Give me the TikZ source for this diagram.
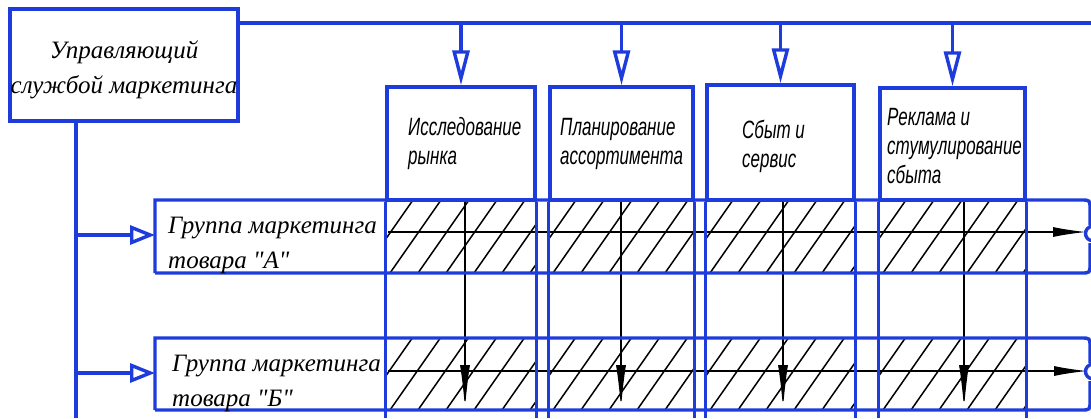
\documentclass[tikz,border=0pt]{standalone}
\usepackage{fontspec}
\setmainfont{Liberation Serif}
\newfontfamily\plainserif{Liberation Serif}
\newfontfamily\gost{Liberation Sans}[FakeStretch=0.68]
\usetikzlibrary{arrows.meta}
\definecolor{lineblue}{RGB}{30,60,220}
\begin{document}
\begin{tikzpicture}[x=1pt,y=-1pt,
  bl/.style={draw=lineblue, line width=3.4pt},
  colbox/.style={bl, inner sep=0pt},
  bigarrow/.style={bl, -{Triangle[open, length=35pt, width=17pt]}},
  sidearrow/.style={bl, -{Triangle[open, length=25pt, width=19pt]}},
  hatch/.style={draw=black, line width=1.5pt},
  thin/.style={draw=black, line width=1.2pt},
  varrow/.style={thin, -{Latex[length=44pt, width=10pt]}},
  harrow/.style={thin, -{Latex[length=33pt, width=10pt]}},
  serif/.style={font=\plainserif\itshape\fontsize{25}{35}\selectfont},
  gostf/.style={font=\gost\itshape\fontsize{25}{29}\selectfont, inner sep=0pt, anchor=base west}
]
\useasboundingbox (0,0) rectangle (1091,418);
\clip (0,0) rectangle (1091,418);

% hatching of the crossings
\foreach \l/\r in {387/535,550/693,707/854,880/1025}{
  \foreach \t/\b in {200/273,338/410}{
    \begin{scope}
      \clip (\l,\t) rectangle (\r,\b);
      \foreach \k in {-2,...,6}
        \draw[hatch] ({\l+3+\k*28},\b) -- ++(51,-73);
    \end{scope}
  }
}

% thin black flow lines
\coordinate (hAs) at (388,232);
\coordinate (hAe) at (1086,232);
\coordinate (hBs) at (388,371);
\coordinate (hBe) at (1087,371);
\draw[harrow] (hAs) -- (hAe);
\draw[harrow] (hBs) -- (hBe);
\foreach \x [count=\i] in {465,621,783,964}{
  \coordinate (v\i s) at (\x,200);
  \coordinate (v\i e) at (\x,409);
  \draw[varrow] (v\i s) -- (v\i e);
}

% manager box
\node[bl, minimum width=228pt, minimum height=112pt, inner sep=0pt, serif,
      text height=24.5pt, text depth=38.5pt] (mgr) at (124,65)
  {\begin{tabular}[t]{@{}c@{}}Управляющий\\службой маркетинга\end{tabular}};

\coordinate (topL) at (238,23);
\coordinate (topR) at (1091,23);
\coordinate (bot) at (0,418);
\coordinate (vtop) at (76,121);
\draw[bl] (topL) -- (topR);
\draw[bl] (vtop) -- (vtop |- bot);

% column boxes
\node[colbox, minimum width=148pt, minimum height=113pt] (c1) at (461,143.5) {};
\node[colbox, minimum width=143pt, minimum height=113pt] (c2) at (621.5,143.5) {};
\node[colbox, minimum width=147pt, minimum height=115pt] (c3) at (780.5,142.5) {};
\node[colbox, minimum width=145pt, minimum height=112pt] (c4) at (952.5,144) {};
\foreach \c in {c1,c2,c3,c4}{
  \draw[bl] (\c.south west) -- (\c.south west |- bot);
  \draw[bl] (\c.south east) -- (\c.south east |- bot);
  \draw[bigarrow] (\c.north |- topL) -- (\c.north);
}
\node[gostf] (t1) at (408,135) {\begin{tabular}[t]{@{}l@{}}Исследование\\рынка\end{tabular}};
\node[gostf] (t2) at (560,135) {\begin{tabular}[t]{@{}l@{}}Планирование\\ассортимента\end{tabular}};
\node[gostf] (t3) at (742,138) {\begin{tabular}[t]{@{}l@{}}Сбыт и\\сервис\end{tabular}};
\node[gostf] (t4) at (887,125) {\begin{tabular}[t]{@{}l@{}}Реклама и\\стумулирование\\сбыта\end{tabular}};

% group rows
\draw[bl] (155,273) -- (155,200) -- (1081,200) .. controls (1090,200) .. (1090,209) -- (1090,225);
\draw[bl] (1093,226) .. controls (1083,227) and (1083,240) .. (1093,241);
\draw[bl] (1090,243) -- (1090,264) .. controls (1090,273) .. (1081,273) -- (155,273);

\draw[bl] (155,410) -- (155,338) -- (1081,338) .. controls (1090,338) .. (1090,347) -- (1090,363);
\draw[bl] (1093,364) .. controls (1083,365) and (1083,378) .. (1093,379);
\draw[bl] (1090,381) -- (1090,401) .. controls (1090,410) .. (1081,410) -- (155,410);

\node[serif, anchor=base west, inner xsep=13pt, inner ysep=0pt] (gA) at (155,233)
  {\begin{tabular}[t]{@{}l@{}}Группа маркетинга\\товара "А"\end{tabular}};
\node[serif, anchor=base west, inner xsep=17pt, inner ysep=0pt] (gB) at (155,371)
  {\begin{tabular}[t]{@{}l@{}}Группа маркетинга\\товара "Б"\end{tabular}};
\coordinate (gAin) at ([yshift=-2pt]gA.base west);
\coordinate (gBin) at ([yshift=-2pt]gB.base west);
\draw[sidearrow] (vtop |- gAin) -- (gAin);
\draw[sidearrow] (vtop |- gBin) -- (gBin);
\end{tikzpicture}
\end{document}
